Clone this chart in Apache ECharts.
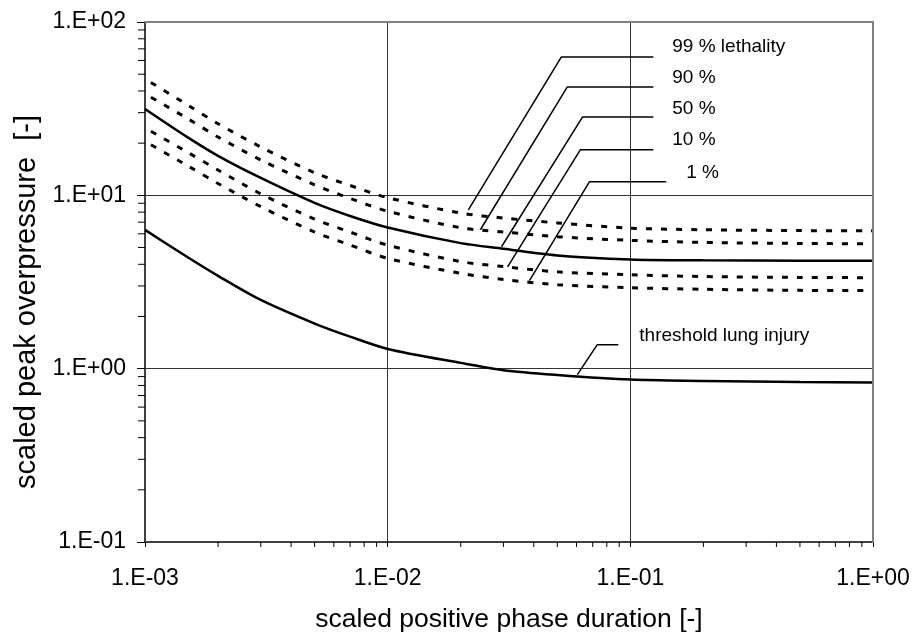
<!DOCTYPE html>
<html>
<head>
<meta charset="utf-8">
<script src="https://cdn.jsdelivr.net/npm/echarts@6/dist/echarts.min.js"></script>
<style>
html,body{margin:0;padding:0;background:#fff}
#main{width:914px;height:633px}
</style>
</head>
<body>
<div id="main"></div>
<script>
// scaled positive phase duration (x) and scaled peak overpressure curves (y)
var durations    = [0.001, 0.0015, 0.002, 0.003, 0.005, 0.007, 0.01, 0.02, 0.03, 0.05, 0.1, 0.2, 0.5, 1];
var lethal99     = [47.0, 33.2, 25.9, 19.0, 13.5, 11.4, 9.7, 7.9, 7.4, 6.93, 6.47, 6.33, 6.26, 6.24];
var lethal90     = [38.5, 27.7, 21.7, 16.0, 11.5, 9.6, 8.1, 6.5, 6.15, 5.77, 5.5, 5.35, 5.28, 5.25];
var lethal50     = [31.5, 21.6, 16.9, 12.6, 9.05, 7.6, 6.52, 5.3, 4.92, 4.5, 4.27, 4.22, 4.2, 4.19];
var lethal10     = [24.5, 17.7, 14.0, 10.2, 7.29, 6.14, 5.16, 4.15, 3.88, 3.62, 3.48, 3.40, 3.36, 3.35];
var lethal1      = [20.5, 14.8, 11.7, 8.6, 6.14, 5.17, 4.33, 3.55, 3.27, 3.05, 2.93, 2.87, 2.83, 2.82];
var lungInjury   = [6.32, 4.39, 3.43, 2.49, 1.82, 1.53, 1.30, 1.08, 0.98, 0.92, 0.865, 0.85, 0.838, 0.832];

var xTickLabels = ['1.E-03', '1.E-02', '1.E-01', '1.E+00'];
var yTickLabels = ['1.E-01', '1.E+00', '1.E+01', '1.E+02'];
var minorSteps = [2, 3, 4, 5, 6, 7, 8, 9];
var xDecades = [0.001, 0.01, 0.1];
var yDecades = [0.1, 1, 10];

// leader lines for the curve labels (data coordinates)
var leaderNames = ['99 % lethality', '90 %', '50 %', '10 %', '1 %', 'threshold lung injury'];
var leaderLines = [
  [[0.0215, 8.25], [0.052, 62.9], [0.1244, 62.9]],
  [[0.0241, 6.33], [0.055, 42.2], [0.1244, 42.2]],
  [[0.02945, 5.05], [0.0635, 28.3], [0.1244, 28.3]],
  [[0.0312, 3.87], [0.0622, 18.3], [0.1244, 18.3]],
  [[0.0384, 3.22], [0.0678, 11.96], [0.1406, 11.96]],
  [[0.0605, 0.923], [0.0731, 1.375], [0.0892, 1.375]]
];
var labelSpots = [[0.1489, 71.8], [0.1489, 47.6], [0.1489, 31.5], [0.1489, 20.9], [0.170, 13.5], [0.1089, 1.55]];

var FONT = 'Liberation Sans, Arial, sans-serif';

function pairs(ys) {
  return durations.map(function (x, i) { return [x, ys[i]]; });
}

var xMinor = [], yMinor = [];
xDecades.forEach(function (d) { minorSteps.forEach(function (m) { xMinor.push([d * m, 0.1]); }); });
yDecades.forEach(function (d) { minorSteps.forEach(function (m) { yMinor.push([0.001, d * m]); }); });

var myChart = echarts.init(document.getElementById('main'));

var series = [];
function addCurve(name, ys, dashed) {
  series.push({
    name: name,
    type: 'line',
    symbol: 'none',
    smooth: 0.3,
    z: 4,
    lineStyle: dashed
      ? { color: '#000', width: 3, type: [6, 9], dashOffset: 8 }
      : { color: '#000', width: 2.5 },
    data: pairs(ys)
  });
}
addCurve('99 %', lethal99, true);
addCurve('90 %', lethal90, true);
addCurve('50 %', lethal50, false);
addCurve('10 %', lethal10, true);
addCurve('1 %', lethal1, true);
addCurve('threshold lung injury', lungInjury, false);

leaderLines.forEach(function (pts, i) {
  series.push({
    name: 'leader ' + i,
    type: 'line',
    symbol: 'none',
    z: 4,
    lineStyle: { color: '#000', width: 1.5 },
    data: pts
  });
});

series.push({
  type: 'scatter',
  symbolSize: 0,
  z: 6,
  itemStyle: { opacity: 1 },
  label: {
    show: true,
    position: 'right',
    distance: 0,
    color: '#000',
    opacity: 1,
    fontFamily: FONT,
    fontSize: 19,
    formatter: function (p) { return leaderNames[p.dataIndex]; }
  },
  data: labelSpots
});

// minor log ticks on the left and bottom axes
series.push({
  type: 'custom',
  z: 6,
  renderItem: function (params, api) {
    var p = api.coord([api.value(0), api.value(1)]);
    return { type: 'line', shape: { x1: p[0] - 7, y1: p[1], x2: p[0], y2: p[1] }, style: { stroke: '#000', lineWidth: 1 } };
  },
  data: yMinor
});
series.push({
  type: 'custom',
  z: 6,
  renderItem: function (params, api) {
    var p = api.coord([api.value(0), api.value(1)]);
    return { type: 'line', shape: { x1: p[0], y1: p[1], x2: p[0], y2: p[1] + 5 }, style: { stroke: '#000', lineWidth: 1 } };
  },
  data: xMinor
});

var option = {
  backgroundColor: '#fff',
  animation: false,
  grid: { left: 145, right: 41, top: 22, bottom: 91, outerBoundsMode: 'none', containLabel: false },
  xAxis: [{
    type: 'log',
    logBase: 10,
    min: 0.001,
    max: 1,
    splitNumber: 3,
    axisLine: { show: true, lineStyle: { color: '#404040', width: 2 } },
    axisTick: { show: true, length: 5, lineStyle: { color: '#000' } },
    axisLabel: {
      margin: 25, fontSize: 23, color: '#000', fontFamily: FONT,
      formatter: function (v) { return xTickLabels[Math.round(Math.log10(v)) + 3]; }
    },
    splitLine: { show: true, lineStyle: { color: '#333', width: 1 } },
    name: 'scaled positive phase duration [-]',
    nameLocation: 'middle',
    nameGap: 64,
    nameTextStyle: { fontSize: 26.5, color: '#000', fontFamily: FONT }
  }, {
    type: 'log',
    logBase: 10,
    min: 0.001,
    max: 1,
    position: 'top',
    z: 5,
    axisLine: { show: true, lineStyle: { color: '#808080', width: 2 } },
    axisTick: { show: false },
    axisLabel: { show: false },
    splitLine: { show: false }
  }],
  yAxis: [{
    type: 'log',
    logBase: 10,
    min: 0.1,
    max: 100,
    splitNumber: 3,
    axisLine: { show: true, lineStyle: { color: '#404040', width: 2 } },
    axisTick: { show: true, length: 8, lineStyle: { color: '#000' } },
    axisLabel: {
      margin: 19, fontSize: 23, color: '#000', fontFamily: FONT,
      formatter: function (v) { return yTickLabels[Math.round(Math.log10(v)) + 1]; }
    },
    splitLine: { show: true, lineStyle: { color: '#333', width: 1 } },
    name: 'scaled peak overpressure  [-]',
    nameLocation: 'middle',
    nameGap: 104,
    nameTextStyle: { fontSize: 29, color: '#000', fontFamily: FONT, padding: [0, 40, 0, 0] }
  }, {
    type: 'log',
    logBase: 10,
    min: 0.1,
    max: 100,
    position: 'right',
    z: 5,
    axisLine: { show: true, lineStyle: { color: '#808080', width: 2 } },
    axisTick: { show: false },
    axisLabel: { show: false },
    splitLine: { show: false }
  }],
  series: series
};

myChart.setOption(option);
</script>
</body>
</html>
